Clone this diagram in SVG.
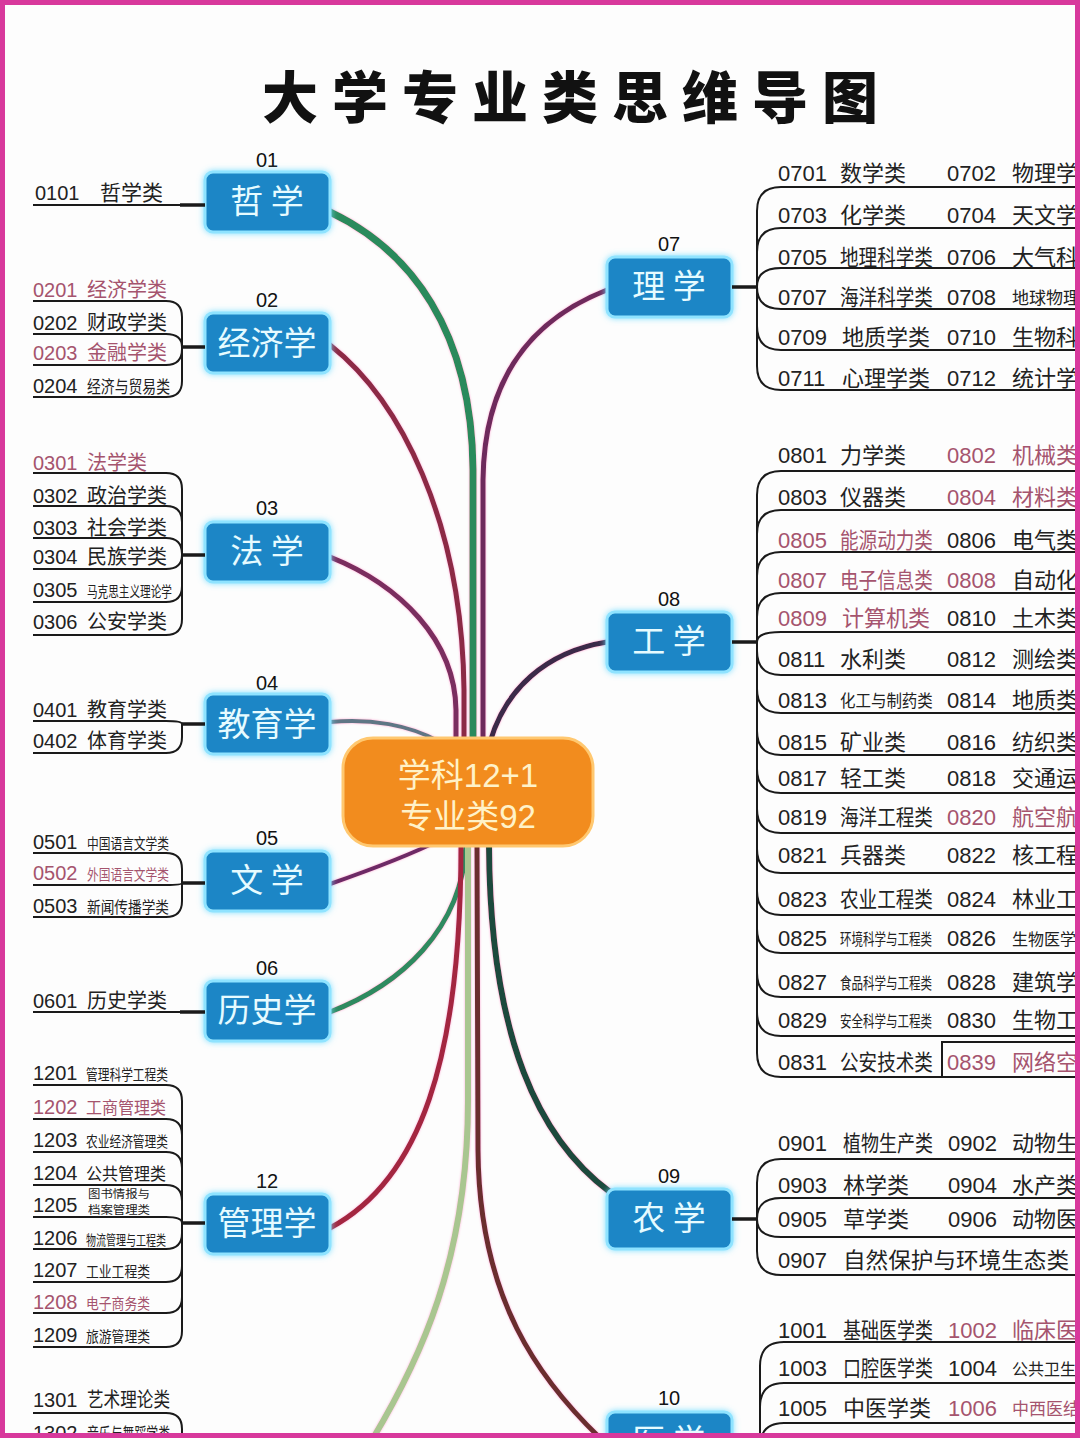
<svg xmlns="http://www.w3.org/2000/svg" width="1080" height="1438" viewBox="0 0 1080 1438">
<defs>
<style>
.box{fill:#1b86c6;stroke:#8fe3ff;stroke-width:3}
.bt{font-family:"Noto Sans CJK SC",sans-serif;font-size:33px;fill:#e6fbff;text-anchor:middle}
.num{font-family:"Liberation Sans",sans-serif;font-size:20px;fill:#111;text-anchor:middle}
.lc{font-family:"Liberation Sans",sans-serif;font-size:20px;fill:#222}
.ln{font-family:"Noto Sans CJK SC",sans-serif;font-size:20px;fill:#222}
.rc{font-family:"Liberation Sans",sans-serif;font-size:22px;fill:#222}
.rn{font-family:"Noto Sans CJK SC",sans-serif;font-size:22px;fill:#222}
.pk{fill:#a5546e}
.ul{fill:none;stroke:#1a1a1a;stroke-width:2}
.cn{fill:none;stroke:#1a1a1a;stroke-width:3.5}
.tr{fill:none;stroke-linecap:round}
.ct{font-family:"Liberation Sans","Noto Sans CJK SC",sans-serif;font-size:33px;fill:#fff2c8;text-anchor:middle}
</style>
<filter id="glow" filterUnits="userSpaceOnUse" x="0" y="0" width="1080" height="1438"><feDropShadow dx="0" dy="0" stdDeviation="3" flood-color="#6fdcff" flood-opacity="0.9"/></filter>
<filter id="lglow" filterUnits="userSpaceOnUse" x="0" y="0" width="1080" height="1438"><feDropShadow dx="0" dy="0" stdDeviation="1.3" flood-color="#ff5fb0" flood-opacity="0.55"/></filter>
</defs>
<rect x="0" y="0" width="1080" height="1438" fill="#fdfdfd"/>

<text x="577" y="118" text-anchor="middle" style="font-family:'Noto Sans CJK SC',sans-serif;font-size:56px;font-weight:900;letter-spacing:14px;fill:#111">大学专业类思维导图</text>

<g id="connectors" filter="url(#lglow)">
<path class="tr" stroke="#2a8a5c" stroke-width="7" d="M330 212 C410 250 472 330 473 470 L473 745"/>
<path class="tr" stroke="#8c2a45" stroke-width="5" d="M330 345 C400 400 462 520 464 690 L464 745"/>
<path class="tr" stroke="#7a2d5e" stroke-width="5" d="M330 557 C400 585 455 640 456 710 L456 745"/>
<path class="tr" stroke="#5f7685" stroke-width="4" d="M330 722 C370 718 410 725 440 742"/>
<path class="tr" stroke="#6d2c66" stroke-width="4" d="M330 884 C370 870 410 855 440 840"/>
<path class="tr" stroke="#2f8a60" stroke-width="5" d="M330 1012 C400 985 462 930 466 845"/>
<path class="tr" stroke="#a9c690" stroke-width="6" d="M372 1440 C420 1360 468 1260 468 1100 L468 845"/>
<path class="tr" stroke="#a3283f" stroke-width="5" d="M330 1228 C420 1180 461 1060 461 845"/>
<path class="tr" stroke="#6e2c5c" stroke-width="5" d="M607 290 C530 320 484 380 483 480 L483 745"/>
<path class="tr" stroke="#3b2c48" stroke-width="5" d="M607 642 C545 652 505 690 490 742"/>
<path class="tr" stroke="#6b2e2e" stroke-width="5" d="M600 1438 C540 1380 479 1300 478 1150 L477 845"/>
<path class="tr" stroke="#1f4a3c" stroke-width="6" d="M610 1192 C540 1140 490 1040 489 845"/>
</g>

<g id="center">
<rect x="343" y="738" width="250" height="108" rx="30" fill="#f28c1e" stroke="#ffc870" stroke-width="3"/>
<text class="ct" x="468" y="787">学科12+1</text>
<text class="ct" x="468" y="828">专业类92</text>
</g>

<!-- 01 -->
<g id="n01">
<text class="num" x="267" y="167">01</text>
<rect class="box" filter="url(#glow)" x="205" y="172" width="125" height="60" rx="8"/>
<text class="bt" x="267" y="213">哲 学</text>
<text class="lc" x="35" y="200">0101</text><text class="ln" x="100" y="200" style="font-size:21px">哲学类</text>
<path class="ul" d="M33 205 H180"/><path class="cn" d="M180 205 H205"/>
</g>

<!-- 02 -->
<g id="n02">
<text class="num" x="267" y="307">02</text>
<rect class="box" filter="url(#glow)" x="205" y="313" width="125" height="60" rx="8"/>
<text class="bt" x="267" y="355">经济学</text>
<text class="lc pk" x="33" y="297">0201</text><text class="ln pk" x="87" y="297">经济学类</text>
<text class="lc" x="33" y="330">0202</text><text class="ln" x="87" y="330">财政学类</text>
<text class="lc pk" x="33" y="360">0203</text><text class="ln pk" x="87" y="360">金融学类</text>
<text class="lc" x="33" y="393">0204</text><text class="ln" x="87" y="393" style="font-size:17px" textLength="83" lengthAdjust="spacingAndGlyphs">经济与贸易类</text>
<path class="ul" d="M33 301 H166 Q182 301 182 317 V347"/>
<path class="ul" d="M33 334 H166 Q182 334 182 347"/>
<path class="ul" d="M33 365 H166 Q182 365 182 349 V347"/>
<path class="ul" d="M33 397 H166 Q182 397 182 381 V347"/>
<path class="cn" d="M182 347 H205"/>
</g>

<!-- 03 -->
<g id="n03">
<text class="num" x="267" y="515">03</text>
<rect class="box" filter="url(#glow)" x="205" y="522" width="125" height="60" rx="8"/>
<text class="bt" x="267" y="563">法 学</text>
<text class="lc pk" x="33" y="470">0301</text><text class="ln pk" x="87" y="470">法学类</text>
<text class="lc" x="33" y="503">0302</text><text class="ln" x="87" y="503">政治学类</text>
<text class="lc" x="33" y="535">0303</text><text class="ln" x="87" y="535">社会学类</text>
<text class="lc" x="33" y="564">0304</text><text class="ln" x="87" y="564">民族学类</text>
<text class="lc" x="33" y="597">0305</text><text class="ln" x="87" y="597" style="font-size:15px" textLength="85" lengthAdjust="spacingAndGlyphs">马克思主义理论学</text>
<text class="lc" x="33" y="629">0306</text><text class="ln" x="87" y="629">公安学类</text>
<path class="ul" d="M33 473 H166 Q182 473 182 489 V555"/>
<path class="ul" d="M33 506 H166 Q182 506 182 522 V555"/>
<path class="ul" d="M33 538 H166 Q182 538 182 554 V555"/>
<path class="ul" d="M33 569 H166 Q182 569 182 555"/>
<path class="ul" d="M33 602 H166 Q182 602 182 586 V555"/>
<path class="ul" d="M33 635 H166 Q182 635 182 619 V555"/>
<path class="cn" d="M182 555 H205"/>
</g>

<!-- 04 -->
<g id="n04">
<text class="num" x="267" y="690">04</text>
<rect class="box" filter="url(#glow)" x="205" y="694" width="125" height="60" rx="8"/>
<text class="bt" x="267" y="736">教育学</text>
<text class="lc" x="33" y="717">0401</text><text class="ln" x="87" y="717">教育学类</text>
<text class="lc" x="33" y="748">0402</text><text class="ln" x="87" y="748">体育学类</text>
<path class="ul" d="M33 721 H166 Q182 721 182 724"/>
<path class="ul" d="M33 753 H166 Q182 753 182 737 V724"/>
<path class="cn" d="M182 724 H205"/>
</g>

<!-- 05 -->
<g id="n05">
<text class="num" x="267" y="845">05</text>
<rect class="box" filter="url(#glow)" x="205" y="851" width="125" height="60" rx="8"/>
<text class="bt" x="267" y="892">文 学</text>
<text class="lc" x="33" y="849">0501</text><text class="ln" x="87" y="849" style="font-size:15px" textLength="82" lengthAdjust="spacingAndGlyphs">中国语言文学类</text>
<text class="lc pk" x="33" y="880">0502</text><text class="ln pk" x="87" y="880" style="font-size:15px" textLength="82" lengthAdjust="spacingAndGlyphs">外国语言文学类</text>
<text class="lc" x="33" y="913">0503</text><text class="ln" x="87" y="913" style="font-size:16px" textLength="82" lengthAdjust="spacingAndGlyphs">新闻传播学类</text>
<path class="ul" d="M33 853 H166 Q182 853 182 869 V883"/>
<path class="ul" d="M33 885 H166 Q182 885 182 883"/>
<path class="ul" d="M33 917 H166 Q182 917 182 901 V883"/>
<path class="cn" d="M182 883 H205"/>
</g>

<!-- 06 -->
<g id="n06">
<text class="num" x="267" y="975">06</text>
<rect class="box" filter="url(#glow)" x="205" y="981" width="125" height="60" rx="8"/>
<text class="bt" x="267" y="1022">历史学</text>
<text class="lc" x="33" y="1008">0601</text><text class="ln" x="87" y="1008">历史学类</text>
<path class="ul" d="M33 1012 H180"/><path class="cn" d="M180 1012 H205"/>
</g>

<!-- 12 -->
<g id="n12">
<text class="num" x="267" y="1188">12</text>
<rect class="box" filter="url(#glow)" x="205" y="1194" width="125" height="60" rx="8"/>
<text class="bt" x="267" y="1235">管理学</text>
<text class="lc" x="33" y="1080">1201</text><text class="ln" x="86" y="1080" style="font-size:15px" textLength="82" lengthAdjust="spacingAndGlyphs">管理科学工程类</text>
<text class="lc pk" x="33" y="1114">1202</text><text class="ln pk" x="86" y="1114" style="font-size:17px" textLength="80" lengthAdjust="spacingAndGlyphs">工商管理类</text>
<text class="lc" x="33" y="1147">1203</text><text class="ln" x="86" y="1147" style="font-size:15px" textLength="82" lengthAdjust="spacingAndGlyphs">农业经济管理类</text>
<text class="lc" x="33" y="1180">1204</text><text class="ln" x="86" y="1180" style="font-size:17px" textLength="80" lengthAdjust="spacingAndGlyphs">公共管理类</text>
<text class="lc" x="33" y="1212">1205</text>
<text class="ln" x="88" y="1198" style="font-size:11px" textLength="62" lengthAdjust="spacingAndGlyphs">图书情报与</text>
<text class="ln" x="88" y="1214" style="font-size:11px" textLength="62" lengthAdjust="spacingAndGlyphs">档案管理类</text>
<text class="lc" x="33" y="1245">1206</text><text class="ln" x="86" y="1245" style="font-size:14px" textLength="80" lengthAdjust="spacingAndGlyphs">物流管理与工程类</text>
<text class="lc" x="33" y="1277">1207</text><text class="ln" x="86" y="1277" style="font-size:15px" textLength="64" lengthAdjust="spacingAndGlyphs">工业工程类</text>
<text class="lc pk" x="33" y="1309">1208</text><text class="ln pk" x="86" y="1309" style="font-size:15px" textLength="64" lengthAdjust="spacingAndGlyphs">电子商务类</text>
<text class="lc" x="33" y="1342">1209</text><text class="ln" x="86" y="1342" style="font-size:15px" textLength="64" lengthAdjust="spacingAndGlyphs">旅游管理类</text>
<path class="ul" d="M33 1085 H166 Q182 1085 182 1101 V1223"/>
<path class="ul" d="M33 1119 H166 Q182 1119 182 1135 V1223"/>
<path class="ul" d="M33 1152 H166 Q182 1152 182 1168 V1223"/>
<path class="ul" d="M33 1185 H166 Q182 1185 182 1201 V1223"/>
<path class="ul" d="M33 1217 H166 Q182 1217 182 1223"/>
<path class="ul" d="M33 1249 H166 Q182 1249 182 1233 V1223"/>
<path class="ul" d="M33 1282 H166 Q182 1282 182 1266 V1223"/>
<path class="ul" d="M33 1313 H166 Q182 1313 182 1297 V1223"/>
<path class="ul" d="M33 1347 H166 Q182 1347 182 1331 V1223"/>
<path class="cn" d="M182 1223 H205"/>
</g>

<!-- 13 -->
<g id="n13">
<text class="num" x="267" y="1449">13</text>
<rect class="box" filter="url(#glow)" x="205" y="1452" width="125" height="60" rx="8"/>
<text class="lc" x="33" y="1407">1301</text><text class="ln" x="87" y="1407" style="font-size:20px" textLength="83" lengthAdjust="spacingAndGlyphs">艺术理论类</text>
<text class="lc" x="33" y="1440">1302</text><text class="ln" x="87" y="1440" style="font-size:17px" textLength="83" lengthAdjust="spacingAndGlyphs">音乐与舞蹈学类</text>
<path class="ul" d="M33 1413 H166 Q182 1413 182 1429 V1480"/>
<path class="ul" d="M33 1445 H166 Q182 1445 182 1461 V1480"/>
</g>

<!-- 07 -->
<g id="n07">
<text class="num" x="669" y="251">07</text>
<rect class="box" filter="url(#glow)" x="607" y="257" width="125" height="60" rx="8"/>
<text class="bt" x="669" y="298">理 学</text>
<path class="cn" d="M732 287 H757"/>
<path class="ul" d="M757 287 V211 Q757 187 781 187 H1080"/>
<path class="ul" d="M757 287 V252 Q757 228 781 228 H1080"/>
<path class="ul" d="M757 287 Q757 268 781 268 H1080"/>
<path class="ul" d="M757 287 Q757 309 781 309 H1080"/>
<path class="ul" d="M757 287 V326 Q757 350 781 350 H1080"/>
<path class="ul" d="M757 287 V366 Q757 390 781 390 H1080"/>
<text class="rc" x="778" y="181">0701</text><text class="rn" x="840" y="181">数学类</text><text class="rc" x="947" y="181">0702</text><text class="rn" x="1012" y="181">物理学</text>
<text class="rc" x="778" y="223">0703</text><text class="rn" x="840" y="223">化学类</text><text class="rc" x="947" y="223">0704</text><text class="rn" x="1012" y="223">天文学</text>
<text class="rc" x="778" y="265">0705</text><text class="rn" transform="translate(840 265) scale(0.845 1)">地理科学类</text><text class="rc" x="947" y="265">0706</text><text class="rn" x="1012" y="265">大气科学</text>
<text class="rc" x="778" y="305">0707</text><text class="rn" transform="translate(840 305) scale(0.845 1)">海洋科学类</text><text class="rc" x="947" y="305">0708</text><text class="rn" x="1012" y="304" style="font-size:17px">地球物理学</text>
<text class="rc" x="778" y="345">0709</text><text class="rn" x="842" y="345">地质学类</text><text class="rc" x="947" y="345">0710</text><text class="rn" x="1012" y="345">生物科学</text>
<text class="rc" x="778" y="386">0711</text><text class="rn" x="842" y="386">心理学类</text><text class="rc" x="947" y="386">0712</text><text class="rn" x="1012" y="386">统计学</text>
</g>

<!-- 08 -->
<g id="n08">
<text class="num" x="669" y="606">08</text>
<rect class="box" filter="url(#glow)" x="607" y="612" width="125" height="60" rx="8"/>
<text class="bt" x="669" y="653">工 学</text>
<path class="cn" d="M732 642 H757"/>
<path class="ul" d="M757 642 V495 Q757 471 781 471 H1080"/>
<path class="ul" d="M757 642 V534 Q757 510 781 510 H1080"/>
<path class="ul" d="M757 642 V576 Q757 552 781 552 H1080"/>
<path class="ul" d="M757 642 V617 Q757 593 781 593 H1080"/>
<path class="ul" d="M757 642 Q757 632 781 632 H1080"/>
<path class="ul" d="M757 642 V651 Q757 675 781 675 H1080"/>
<path class="ul" d="M757 642 V689 Q757 713 781 713 H1080"/>
<path class="ul" d="M757 642 V731 Q757 755 781 755 H1080"/>
<path class="ul" d="M757 642 V769 Q757 793 781 793 H1080"/>
<path class="ul" d="M757 642 V809 Q757 833 781 833 H1080"/>
<path class="ul" d="M757 642 V849 Q757 873 781 873 H1080"/>
<path class="ul" d="M757 642 V891 Q757 915 781 915 H1080"/>
<path class="ul" d="M757 642 V929 Q757 953 781 953 H1080"/>
<path class="ul" d="M757 642 V973 Q757 997 781 997 H1080"/>
<path class="ul" d="M757 642 V1012 Q757 1036 781 1036 H1080"/>
<path class="ul" d="M757 642 V1053 Q757 1077 781 1077 H1080"/>
<rect x="942" y="1042" width="140" height="35" fill="none" stroke="#1a1a1a" stroke-width="2"/>
<text class="rc" x="778" y="463">0801</text><text class="rn" x="840" y="463">力学类</text><text class="rc pk" x="947" y="463">0802</text><text class="rn pk" x="1012" y="463">机械类</text>
<text class="rc" x="778" y="505">0803</text><text class="rn" x="840" y="505">仪器类</text><text class="rc pk" x="947" y="505">0804</text><text class="rn pk" x="1012" y="505">材料类</text>
<text class="rc pk" x="778" y="548">0805</text><text class="rn pk" transform="translate(840 548) scale(0.845 1)">能源动力类</text><text class="rc" x="947" y="548">0806</text><text class="rn" x="1012" y="548">电气类</text>
<text class="rc pk" x="778" y="588">0807</text><text class="rn pk" transform="translate(840 588) scale(0.845 1)">电子信息类</text><text class="rc pk" x="947" y="588">0808</text><text class="rn" x="1012" y="588">自动化</text>
<text class="rc pk" x="778" y="626">0809</text><text class="rn pk" x="842" y="626">计算机类</text><text class="rc" x="947" y="626">0810</text><text class="rn" x="1012" y="626">土木类</text>
<text class="rc" x="778" y="667">0811</text><text class="rn" x="840" y="667">水利类</text><text class="rc" x="947" y="667">0812</text><text class="rn" x="1012" y="667">测绘类</text>
<text class="rc" x="778" y="708">0813</text><text class="rn" transform="translate(840 707) scale(0.91 1)" style="font-size:17px">化工与制药类</text><text class="rc" x="947" y="708">0814</text><text class="rn" x="1012" y="708">地质类</text>
<text class="rc" x="778" y="750">0815</text><text class="rn" x="840" y="750">矿业类</text><text class="rc" x="947" y="750">0816</text><text class="rn" x="1012" y="750">纺织类</text>
<text class="rc" x="778" y="786">0817</text><text class="rn" x="840" y="786">轻工类</text><text class="rc" x="947" y="786">0818</text><text class="rn" x="1012" y="786">交通运输</text>
<text class="rc" x="778" y="825">0819</text><text class="rn" transform="translate(840 825) scale(0.845 1)">海洋工程类</text><text class="rc pk" x="947" y="825">0820</text><text class="rn pk" x="1012" y="825">航空航天</text>
<text class="rc" x="778" y="863">0821</text><text class="rn" x="840" y="863">兵器类</text><text class="rc" x="947" y="863">0822</text><text class="rn" x="1012" y="863">核工程</text>
<text class="rc" x="778" y="907">0823</text><text class="rn" transform="translate(840 907) scale(0.845 1)">农业工程类</text><text class="rc" x="947" y="907">0824</text><text class="rn" x="1012" y="907">林业工程</text>
<text class="rc" x="778" y="946">0825</text><text class="rn" transform="translate(840 945) scale(0.72 1)" style="font-size:16px">环境科学与工程类</text><text class="rc" x="947" y="946">0826</text><text class="rn" x="1012" y="945" style="font-size:16px">生物医学工程</text>
<text class="rc" x="778" y="990">0827</text><text class="rn" transform="translate(840 989) scale(0.72 1)" style="font-size:16px">食品科学与工程类</text><text class="rc" x="947" y="990">0828</text><text class="rn" x="1012" y="990">建筑学</text>
<text class="rc" x="778" y="1028">0829</text><text class="rn" transform="translate(840 1027) scale(0.72 1)" style="font-size:16px">安全科学与工程类</text><text class="rc" x="947" y="1028">0830</text><text class="rn" x="1012" y="1028">生物工程</text>
<text class="rc" x="778" y="1070">0831</text><text class="rn" transform="translate(840 1070) scale(0.845 1)">公安技术类</text><text class="rc pk" x="947" y="1070">0839</text><text class="rn pk" x="1012" y="1070">网络空间安</text>
</g>

<!-- 09 -->
<g id="n09">
<text class="num" x="669" y="1183">09</text>
<rect class="box" filter="url(#glow)" x="607" y="1189" width="125" height="60" rx="8"/>
<text class="bt" x="669" y="1230">农 学</text>
<path class="cn" d="M732 1219 H757"/>
<path class="ul" d="M757 1219 V1183 Q757 1159 781 1159 H1080"/>
<path class="ul" d="M757 1219 Q757 1198 781 1198 H1080"/>
<path class="ul" d="M757 1219 Q757 1237 781 1237 H1080"/>
<path class="ul" d="M757 1219 V1251 Q757 1275 781 1275 H1080"/>
<text class="rc" x="778" y="1151">0901</text><text class="rn" transform="translate(843 1151) scale(0.818 1)">植物生产类</text><text class="rc" x="948" y="1151">0902</text><text class="rn" x="1012" y="1151">动物生产</text>
<text class="rc" x="778" y="1193">0903</text><text class="rn" x="843" y="1193">林学类</text><text class="rc" x="948" y="1193">0904</text><text class="rn" x="1012" y="1193">水产类</text>
<text class="rc" x="778" y="1227">0905</text><text class="rn" x="843" y="1227">草学类</text><text class="rc" x="948" y="1227">0906</text><text class="rn" x="1012" y="1227">动物医学</text>
<text class="rc" x="778" y="1268">0907</text><text class="rn" x="843" y="1268" textLength="226" lengthAdjust="spacingAndGlyphs">自然保护与环境生态类</text>
</g>

<!-- 10 -->
<g id="n10">
<text class="num" x="669" y="1405">10</text>
<rect class="box" filter="url(#glow)" x="607" y="1412" width="125" height="60" rx="8"/>
<text class="bt" x="669" y="1453">医 学</text>
<path class="ul" d="M760 1480 V1366 Q760 1342 784 1342 H1080"/>
<path class="ul" d="M760 1480 V1407 Q760 1383 784 1383 H1080"/>
<path class="ul" d="M760 1480 V1447 Q760 1423 784 1423 H1080"/>
<text class="rc" x="778" y="1338">1001</text><text class="rn" transform="translate(843 1338) scale(0.818 1)">基础医学类</text><text class="rc pk" x="948" y="1338">1002</text><text class="rn pk" x="1012" y="1338">临床医学</text>
<text class="rc" x="778" y="1376">1003</text><text class="rn" transform="translate(843 1376) scale(0.818 1)">口腔医学类</text><text class="rc" x="948" y="1376">1004</text><text class="rn" x="1012" y="1375" style="font-size:16px">公共卫生与预防医学</text>
<text class="rc" x="778" y="1416">1005</text><text class="rn" x="843" y="1416">中医学类</text><text class="rc pk" x="948" y="1416">1006</text><text class="rn pk" x="1012" y="1415" style="font-size:17px">中西医结合</text>
</g>

<rect x="2.5" y="2.5" width="1075" height="1433" fill="none" stroke="#d8399c" stroke-width="5"/>
</svg>
